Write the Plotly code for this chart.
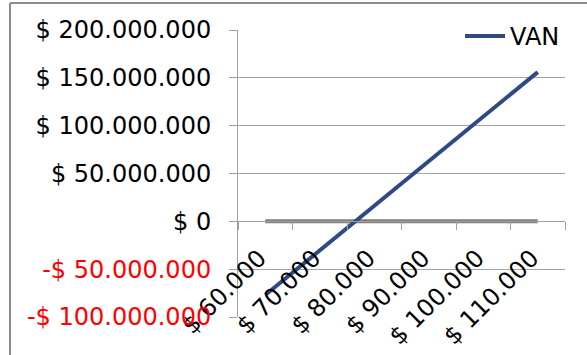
import plotly.graph_objects as go

categories = ["$ 60.000", "$ 70.000", "$ 80.000", "$ 90.000", "$ 100.000", "$ 110.000"]
van_values = [-77e6, -30.5e6, 16e6, 62.5e6, 109e6, 156e6]
zero_values = [0, 0, 0, 0, 0, 0]
y_tick_values = [200e6, 150e6, 100e6, 50e6, 0, -50e6, -100e6]
y_tick_labels = ["$ 200.000.000", "$ 150.000.000", "$ 100.000.000", "$ 50.000.000",
                 "$ 0", "-$ 50.000.000", "-$ 100.000.000"]

W, H = 587, 355
L, R, T, B = 238, 22, 30, 38
pw, ph = W - L - R, H - T - B

def px(x):
    return (x - L) / pw

def py(y):
    return (H - B - y) / ph

ticktext = [f"<span style='color:#ff0000'>{t}</span>" if v < 0 else t
            for v, t in zip(y_tick_values, y_tick_labels)]

fig = go.Figure()
fig.add_trace(go.Scatter(x=categories, y=zero_values, mode="lines",
                         line=dict(color="#7f7f7f", width=4), showlegend=False,
                         name="0"))
fig.add_trace(go.Scatter(x=categories, y=van_values, mode="lines",
                         line=dict(color="#2e4a86", width=4), name="VAN"))

font = "DejaVu Sans, Verdana, sans-serif"
fig.update_layout(
    width=W, height=H,
    margin=dict(l=L, r=R, t=T, b=B, pad=0, autoexpand=False),
    paper_bgcolor="white", plot_bgcolor="white",
    font=dict(family=font, size=24, color="black"),
    showlegend=True,
    legend=dict(x=1.0, xanchor="right", y=py(14), yanchor="top",
                bgcolor="rgba(0,0,0,0)", font=dict(size=24, family=font),
                itemwidth=40, borderwidth=0),
    xaxis=dict(type="category", range=[-0.5, 5.5], anchor="free", position=1/3,
               automargin=False,
               showline=True, linecolor="#a0a0a0", linewidth=1,
               ticks="outside", ticklen=8, tickcolor="#a0a0a0", tickson="boundaries",
               tickangle=-45, showgrid=False, zeroline=False,
               ticklabelstandoff=12, ticklabelshift=-6,
               tickfont=dict(size=24, family=font, color="black")),
    yaxis=dict(range=[-100e6, 200e6], tickvals=y_tick_values, ticktext=ticktext,
               automargin=False,
               showline=True, linecolor="#a0a0a0", linewidth=1,
               ticks="outside", ticklen=8, tickcolor="#a0a0a0",
               showgrid=True, gridcolor="#a6a6a6", gridwidth=1, zeroline=False,
               ticklabelstandoff=13,
               tickfont=dict(size=24, family=font, color="black")),
    shapes=[
        dict(type="line", xref="paper", yref="paper", x0=px(10), x1=px(W + 5),
             y0=py(3), y1=py(3), line=dict(color="#8c8c8c", width=2)),
        dict(type="line", xref="paper", yref="paper", x0=px(10), x1=px(10),
             y0=py(3), y1=py(H + 5), line=dict(color="#8c8c8c", width=2)),
    ],
)

fig.write_html("out.html")
